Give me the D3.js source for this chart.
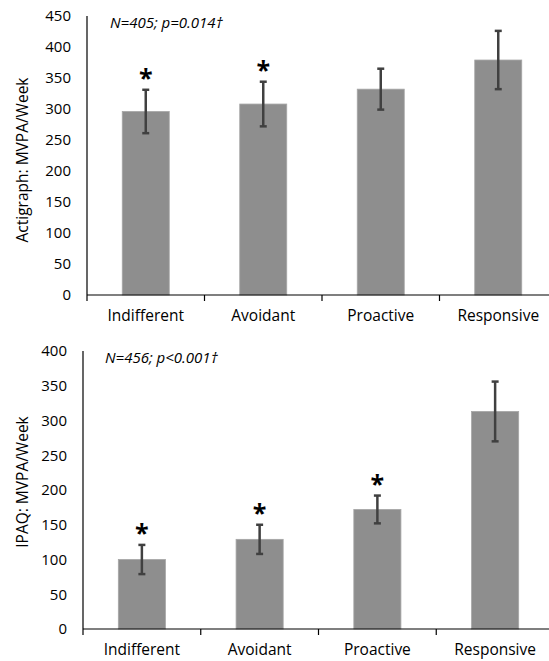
<!DOCTYPE html>
<html>
<head>
<meta charset="utf-8">
<script src="https://cdn.jsdelivr.net/npm/d3@7"></script>
<style>
  body { margin: 0; background: #fff; }
  svg { display: block; }
  text { font-family: "Open Sans", "Noto Sans", sans-serif; fill: #000; }
</style>
</head>
<body>
<div id="chart"></div>
<script>
// categories shared by both panels
var categories = ["Indifferent", "Avoidant", "Proactive", "Responsive"];

// top panel : Actigraph
var actiMeans = [296, 308, 332, 379];
var actiErr = [35, 36, 33, 47];
var actiStars = [true, true, false, false];
var actiTicks = [0, 50, 100, 150, 200, 250, 300, 350, 400, 450];

// bottom panel : IPAQ
var ipaqMeans = [100, 129, 172, 313];
var ipaqErr = [21, 21, 20, 43];
var ipaqStars = [true, true, true, false];
var ipaqTicks = [0, 50, 100, 150, 200, 250, 300, 350, 400];

var svg = d3.select("#chart").append("svg")
            .attr("width", 549)
            .attr("height", 661);

function DrawPanel(opt){
	var x = d3.scaleBand()
	          .domain(categories)
	          .range([opt.left, opt.right])
	          .paddingInner(0.6)
	          .paddingOuter(0.3);
	var y = d3.scaleLinear()
	          .domain([0, opt.max])
	          .range([opt.bottom, opt.top]);

	var g = svg.append("g");

	// bars
	g.selectAll("rect.bar").data(opt.means).enter().append("rect")
	 .attr("class", "bar")
	 .attr("x", function(d, i){ return x(categories[i]); })
	 .attr("y", function(d){ return y(d); })
	 .attr("width", x.bandwidth())
	 .attr("height", function(d){ return y(0) - y(d); })
	 .attr("fill", "#8e8e8e")
	 .attr("stroke", "#a6a6a6")
	 .attr("stroke-width", 0.8);

	// error bars
	var cx = function(i){ return x(categories[i]) + x.bandwidth()/2; };
	opt.means.forEach(function(m, i){
		var hi = y(m + opt.err[i]), lo = y(m - opt.err[i]);
		g.append("line").attr("x1", cx(i)).attr("x2", cx(i))
		 .attr("y1", hi).attr("y2", lo)
		 .attr("stroke", "#404040").attr("stroke-width", 2.5);
		[hi, lo].forEach(function(yy){
			g.append("line").attr("x1", cx(i) - 3.5).attr("x2", cx(i) + 3.5)
			 .attr("y1", yy).attr("y2", yy)
			 .attr("stroke", "#404040").attr("stroke-width", 2.5);
		});
		if(opt.stars[i]){
			g.append("text").attr("x", cx(i)).attr("y", hi - 3)
			 .attr("text-anchor", "middle")
			 .style("font-size", "25px")
			 .style("font-weight", "bold")
			 .text("*");
		}
	});

	// y axis
	g.append("line").attr("x1", opt.left).attr("x2", opt.left)
	 .attr("y1", y(opt.max)).attr("y2", y(0) + 6)
	 .attr("stroke", "#000").attr("stroke-width", 1.2);
	g.selectAll("text.ytick").data(opt.ticks).enter().append("text")
	 .attr("class", "ytick")
	 .attr("x", opt.left - 16)
	 .attr("y", function(d){ return y(d); })
	 .attr("dy", "0.35em")
	 .attr("text-anchor", "end")
	 .style("font-size", "15px")
	 .text(function(d){ return d; });

	// x axis
	g.append("line").attr("x1", opt.left).attr("x2", opt.right)
	 .attr("y1", y(0)).attr("y2", y(0))
	 .attr("stroke", "#000").attr("stroke-width", 1.2);
	categories.forEach(function(c, i){
		if(i > 0){
			var tx = x(c) - x.step()*x.paddingInner()/2;
			g.append("line").attr("x1", tx).attr("x2", tx)
			 .attr("y1", y(0)).attr("y2", y(0) + 6)
			 .attr("stroke", "#000").attr("stroke-width", 1.2);
		}
		g.append("text").attr("x", cx(i)).attr("y", y(0) + 26)
		 .attr("text-anchor", "middle")
		 .style("font-size", "15.5px")
		 .text(c);
	});

	// axis title
	g.append("text")
	 .attr("transform", "translate(" + opt.titleX + "," + opt.titleY + ") rotate(-90)")
	 .attr("text-anchor", "middle")
	 .style("font-size", "15.5px")
	 .text(opt.title);

	// note
	g.append("text").attr("x", opt.noteX).attr("y", y(opt.max) + 12)
	 .style("font-size", "15px")
	 .style("font-style", "italic")
	 .text(opt.note);
}

DrawPanel({means: actiMeans, err: actiErr, stars: actiStars, ticks: actiTicks,
           max: 450, left: 87, right: 557, top: 16, bottom: 295,
           title: "Actigraph: MVPA/Week", titleX: 28, titleY: 160,
           note: "N=405; p=0.014\u2020", noteX: 110});

DrawPanel({means: ipaqMeans, err: ipaqErr, stars: ipaqStars, ticks: ipaqTicks,
           max: 400, left: 83, right: 554, top: 351, bottom: 629,
           title: "IPAQ: MVPA/Week", titleX: 28, titleY: 482,
           note: "N=456; p<0.001\u2020", noteX: 105});
</script>
</body>
</html>
